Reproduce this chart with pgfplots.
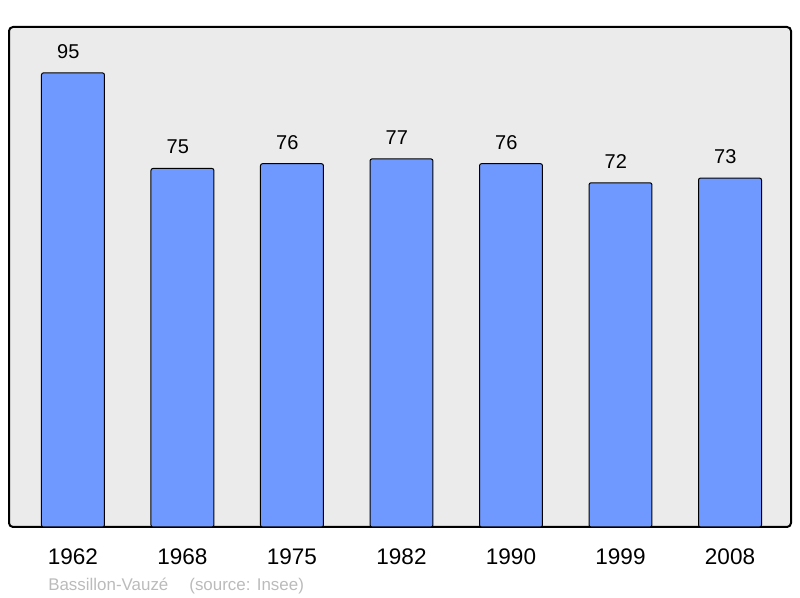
\documentclass[border=0pt]{standalone}
\usepackage{fontspec}
\setmainfont{Liberation Sans}
\usepackage{pgfplots}
\pgfplotsset{compat=1.18}
\definecolor{barblue}{RGB}{112,153,255}
\definecolor{bggray}{RGB}{235,235,235}
\definecolor{srcgray}{RGB}{187,187,187}
\begin{document}
\begin{tikzpicture}
\useasboundingbox (-6.75pt,-53.25pt) rectangle (593.25pt,395.25pt);
\begin{axis}[
  scale only axis, width=586.5pt, height=375pt,
  xmin=-0.584, xmax=6.557, ymin=0, ymax=104.6,
  axis line style={draw=none},
  axis background/.style={fill=bggray, draw=black, line width=1.5pt, rounded corners=3pt},
  clip=false,
  ybar, bar width=0.575, bar shift=0pt,
  xtick=data, ytick=\empty,
  xticklabels={1962,1968,1975,1982,1990,1999,2008},
  xticklabel style={anchor=base, yshift=-28.5pt, font=\fontsize{16.9}{20}\selectfont},
  major tick length=0pt,
  tick style={draw=none},
  /pgf/number format/assume math mode=true,
  nodes near coords,
  every node near coord/.style={anchor=base, yshift=11pt, xshift=-3.5pt, font=\fontsize{15}{18}\selectfont, text=black},
]
\addplot[fill=barblue, draw=black, line width=0.75pt, rounded corners=1.5pt] coordinates {
  (0,95) (1,75) (2,76) (3,77) (4,76) (5,72) (6,73)
};
\node[anchor=base west, text=srcgray, font=\fontsize{12.7}{15}\selectfont, inner sep=0pt]
  at (rel axis cs:0,0) [xshift=29.25pt, yshift=-47.8pt] {Bassillon-Vauzé\hspace{15.75pt}(source: Insee)};
\end{axis}
\end{tikzpicture}
\end{document}
